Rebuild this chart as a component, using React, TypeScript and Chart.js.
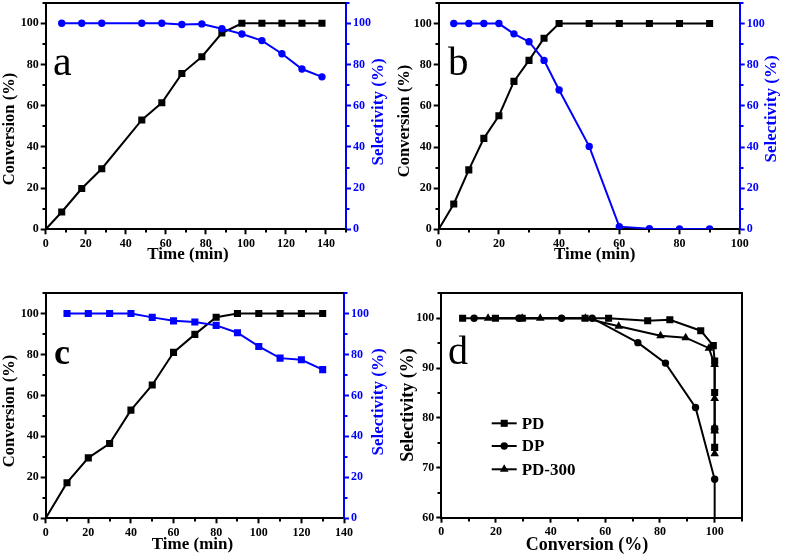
import React, { useEffect, useRef } from "react";
import { Chart, registerables } from "chart.js";

Chart.register(...registerables);

const FONT = "'Liberation Serif', 'Times New Roman', Times, serif";
const BLUE = "#0000ff";
const BLACK = "#000000";

// ---------- Panel a ----------
const timeA = [0, 8, 18, 28, 48, 58, 68, 78, 88, 98, 108, 118, 128, 138];
const convA = [0, 8.4, 19.8, 29.4, 53.1, 61.4, 75.6, 83.8, 95.3, 100, 100, 100, 100, 100];
const selTimeA = [8, 18, 28, 48, 58, 68, 78, 88, 98, 108, 118, 128, 138];
const selA = [100, 100, 100, 100, 100, 99.4, 99.7, 97.4, 94.8, 91.6, 85.2, 77.8, 74.0];

// ---------- Panel b ----------
const timeB = [0, 5, 10, 15, 20, 25, 30, 35, 40, 50, 60, 70, 80, 90];
const convB = [0, 12.3, 28.9, 44.2, 55.2, 71.9, 82.1, 92.9, 100, 100, 100, 100, 100, 100];
const selTimeB = [5, 10, 15, 20, 25, 30, 35, 40, 50, 60, 70, 80, 90];
const selB = [100, 100, 100, 100, 95.0, 91.2, 82.1, 67.7, 40.3, 1.3, 0.3, 0.2, 0.2];

// ---------- Panel c ----------
const timeC = [0, 10, 20, 30, 40, 50, 60, 70, 80, 90, 100, 110, 120, 130];
const convC = [0, 17.4, 29.5, 36.5, 52.8, 65.1, 81.0, 89.8, 98.2, 100, 100, 100, 100, 100];
const selTimeC = [10, 20, 30, 40, 50, 60, 70, 80, 90, 100, 110, 120, 130];
const selC = [100, 100, 100, 100, 98.1, 96.4, 95.8, 94.2, 90.6, 83.9, 78.2, 77.4, 72.6];

// ---------- Panel d ----------
const convPD = [7.8, 19.8, 29.6, 52.6, 61.2, 75.5, 83.6, 94.9, 99.5, 100, 100, 100, 100];
const selPD = [100, 100, 100, 100, 100, 99.5, 99.7, 97.5, 94.5, 91.4, 85.1, 77.8, 74.1];
const convDP = [12.0, 28.4, 44.0, 55.2, 71.9, 82.0, 93.0, 100, 100];
const selDP = [100, 100, 100, 100, 95.1, 91.0, 82.1, 67.7, 40.3];
const convPD300 = [17.1, 29.6, 36.2, 52.7, 64.9, 80.2, 89.4, 97.9, 100, 100, 100, 100, 100];
const selPD300 = [100, 100, 100, 100, 98.4, 96.5, 96.1, 94.0, 90.7, 83.9, 78.2, 77.4, 72.8];

const legendLabels = ["PD", "DP", "PD-300"];

type Range = { min: number; max: number; step: number; minor: number };
type Txt = {
  text: string; x: number; y: number; rot?: number; size: number;
  bold?: boolean; color?: string; align?: CanvasTextAlign; baseline?: CanvasTextBaseline;
};
type Spec = {
  box: [number, number, number, number];
  area: [number, number, number, number];
  x: Range; y: Range; y2?: Range;
  datasets: any[];
  texts: Txt[];
  frameRight?: boolean;
  legend?: { x1: number; x2: number; tx: number; ys: number[] };
};

const pts = (xs: number[], ys: number[]) => xs.map((x, i) => ({ x, y: ys[i] }));

function lineDs(label: string, xs: number[], ys: number[], color: string, style: string, r: number, axis: string, order: number, hideFirst = false) {
  return {
    label,
    data: pts(xs, ys),
    borderColor: color,
    backgroundColor: color,
    borderWidth: 2,
    pointStyle: style,
    pointRadius: xs.map((_, i) => (hideFirst && i === 0 ? 0 : r)),
    pointBorderWidth: 0,
    pointHoverRadius: r,
    tension: 0,
    yAxisID: axis,
    xAxisID: "x",
    order,
  };
}

const RANGE_T150: Range = { min: 0, max: 150, step: 20, minor: 10 };
const RANGE_T100: Range = { min: 0, max: 100, step: 20, minor: 10 };
const RANGE_T140: Range = { min: 0, max: 140, step: 20, minor: 10 };
const RANGE_P110: Range = { min: 0, max: 110, step: 20, minor: 10 };
const RANGE_SEL_D: Range = { min: 60, max: 105, step: 10, minor: 5 };
const RANGE_CONV_D: Range = { min: 0, max: 110, step: 20, minor: 10 };

const specs: Spec[] = [
  {
    box: [0, 0, 393, 275],
    area: [45.7, 2.7, 346, 229.3],
    x: RANGE_T150, y: RANGE_P110, y2: RANGE_P110,
    datasets: [
      lineDs("Conversion", timeA, convA, BLACK, "rect", 5, "y", 1, true),
      lineDs("Selectivity", selTimeA, selA, BLUE, "circle", 3.7, "y2", 0),
    ],
    texts: [
      { text: "a", x: 53, y: 75, size: 42, align: "left", baseline: "alphabetic" },
      { text: "Conversion (%)", x: 10, y: 129, rot: -90, size: 16.5, bold: true },
      { text: "Selectivity (%)", x: 379, y: 112, rot: -90, size: 17, bold: true, color: BLUE },
      { text: "Time (min)", x: 188, y: 255, size: 17, bold: true },
    ],
  },
  {
    box: [393, 0, 394, 275],
    area: [438.7, 3, 739.7, 229.3],
    x: RANGE_T100, y: RANGE_P110, y2: RANGE_P110,
    datasets: [
      lineDs("Conversion", timeB, convB, BLACK, "rect", 5, "y", 1, true),
      lineDs("Selectivity", selTimeB, selB, BLUE, "circle", 3.7, "y2", 0),
    ],
    texts: [
      { text: "b", x: 448, y: 75, size: 41, align: "left", baseline: "alphabetic" },
      { text: "Conversion (%)", x: 404.7, y: 121, rot: -90, size: 16.5, bold: true },
      { text: "Selectivity (%)", x: 772, y: 109, rot: -90, size: 17, bold: true, color: BLUE },
      { text: "Time (min)", x: 594.7, y: 255, size: 17, bold: true },
    ],
  },
  {
    box: [0, 285, 393, 273],
    area: [45.7, 293, 344, 518.3],
    x: RANGE_T140, y: RANGE_P110, y2: RANGE_P110,
    datasets: [
      lineDs("Conversion", timeC, convC, BLACK, "rect", 5, "y", 1, true),
      lineDs("Selectivity", selTimeC, selC, BLUE, "rect", 5, "y2", 0),
    ],
    texts: [
      { text: "c", x: 54, y: 364, size: 36, bold: true, align: "left", baseline: "alphabetic" },
      { text: "Conversion (%)", x: 10, y: 411, rot: -90, size: 16.5, bold: true },
      { text: "Selectivity (%)", x: 379, y: 402, rot: -90, size: 17, bold: true, color: BLUE },
      { text: "Time (min)", x: 192.5, y: 545, size: 17, bold: true },
    ],
  },
  {
    box: [393, 285, 394, 273],
    area: [441.3, 293.3, 742, 517.7],
    x: RANGE_CONV_D, y: RANGE_SEL_D,
    datasets: [
      lineDs(legendLabels[0], convPD, selPD, BLACK, "rect", 5, "y", 2),
      lineDs(legendLabels[1], convDP, selDP, BLACK, "circle", 3.7, "y", 1),
      lineDs(legendLabels[2], convPD300, selPD300, BLACK, "triangle", 5, "y", 0),
    ],
    texts: [
      { text: "d", x: 448, y: 364, size: 40, align: "left", baseline: "alphabetic" },
      { text: "Selectivity (%)", x: 408, y: 405, rot: -90, size: 18, bold: true },
      { text: "Conversion (%)", x: 587, y: 545, size: 18, bold: true },
    ],
    frameRight: true,
    legend: { x1: 491.7, x2: 516.7, tx: 521.7, ys: [423.3, 446, 469.3] },
  },
];

function drawMarker(ctx: CanvasRenderingContext2D, style: string, x: number, y: number, r: number) {
  ctx.beginPath();
  if (style === "rect") {
    const s = Math.SQRT1_2 * r;
    ctx.rect(x - s, y - s, 2 * s, 2 * s);
  } else if (style === "circle") {
    ctx.arc(x, y, r, 0, Math.PI * 2);
  } else {
    let a = 0;
    ctx.moveTo(x + Math.sin(a) * r, y - Math.cos(a) * r);
    a += (2 * Math.PI) / 3;
    ctx.lineTo(x + Math.sin(a) * r, y - Math.cos(a) * r);
    a += (2 * Math.PI) / 3;
    ctx.lineTo(x + Math.sin(a) * r, y - Math.cos(a) * r);
    ctx.closePath();
  }
  ctx.fill();
}

function makeConfig(spec: Spec): any {
  const [x0, y0, w, h] = spec.box;
  const [l, t, r, b] = spec.area;
  const leftW = l - x0;
  const rightW = x0 + w - r;
  const botH = y0 + h - b;
  const topP = t - y0;

  const axis = (rg: Range, color: string, position: string, size: number, horiz: boolean) => ({
    type: "linear",
    position,
    min: rg.min,
    max: rg.max,
    afterFit: (s: any) => {
      if (horiz) s.height = size;
      else s.width = size;
      s.paddingTop = 0;
      s.paddingBottom = 0;
      s.paddingLeft = 0;
      s.paddingRight = 0;
    },
    border: { display: true, color, width: 2 },
    grid: { display: true, drawOnChartArea: false, drawTicks: true, tickLength: 5, tickWidth: 2, tickColor: color, color },
    ticks: {
      stepSize: rg.step,
      includeBounds: false,
      color,
      font: { family: FONT, size: 12, weight: "bold" },
      padding: 2,
      maxRotation: 0,
      minRotation: 0,
      autoSkip: false,
    },
  });

  const scales: any = {
    x: axis(spec.x, BLACK, "bottom", botH, true),
    y: axis(spec.y, BLACK, "left", leftW, false),
  };
  if (spec.y2) scales.y2 = axis(spec.y2, BLUE, "right", rightW, false);

  const decor = {
    id: "decor",
    afterDraw(chart: any) {
      const ctx: CanvasRenderingContext2D = chart.ctx;
      const ca = chart.chartArea;
      ctx.save();
      // frame
      ctx.strokeStyle = BLACK;
      ctx.lineWidth = 2;
      ctx.beginPath();
      const ty = Math.round(ca.top);
      ctx.moveTo(Math.round(ca.left) - 1, ty);
      ctx.lineTo(Math.round(ca.right) + 1, ty);
      if (spec.frameRight) {
        const rx = Math.round(ca.right);
        ctx.moveTo(rx, ty - 1);
        ctx.lineTo(rx, Math.round(ca.bottom) + 1);
      }
      ctx.stroke();

      // minor ticks
      const minor = (id: string, rg: Range, color: string, side: string) => {
        const s = chart.scales[id];
        if (!s) return;
        ctx.strokeStyle = color;
        ctx.lineWidth = 2;
        for (let v = rg.min + rg.minor; v <= rg.max + 1e-9; v += rg.minor) {
          const q = (v - 0) / rg.step;
          if (Math.abs(q - Math.round(q)) < 1e-6) continue;
          const p = Math.round(s.getPixelForValue(v));
          ctx.beginPath();
          if (side === "bottom") {
            const yy = Math.round(ca.bottom);
            ctx.moveTo(p, yy);
            ctx.lineTo(p, yy + 3.5);
          } else if (side === "left") {
            const xx = Math.round(ca.left);
            ctx.moveTo(xx, p);
            ctx.lineTo(xx - 3.5, p);
          } else {
            const xx = Math.round(ca.right);
            ctx.moveTo(xx, p);
            ctx.lineTo(xx + 3.5, p);
          }
          ctx.stroke();
        }
      };
      minor("x", spec.x, BLACK, "bottom");
      minor("y", spec.y, BLACK, "left");
      if (spec.y2) minor("y2", spec.y2, BLUE, "right");

      // texts
      for (const tx of spec.texts) {
        ctx.save();
        ctx.translate(tx.x - x0, tx.y - y0);
        if (tx.rot) ctx.rotate((tx.rot * Math.PI) / 180);
        ctx.fillStyle = tx.color || BLACK;
        ctx.font = `${tx.bold ? "bold " : ""}${tx.size}px ${FONT}`;
        ctx.textAlign = tx.align || "center";
        ctx.textBaseline = tx.baseline || "middle";
        ctx.fillText(tx.text, 0, 0);
        ctx.restore();
      }

      // legend
      if (spec.legend) {
        const lg = spec.legend;
        const dsets = chart.data.datasets;
        // legend entries listed in label order
        legendLabels.forEach((lab, i) => {
          const ds = dsets.find((d: any) => d.label === lab);
          if (!ds) return;
          const yy = lg.ys[i] - y0;
          ctx.strokeStyle = ds.borderColor;
          ctx.lineWidth = 2;
          ctx.beginPath();
          ctx.moveTo(lg.x1 - x0, yy);
          ctx.lineTo(lg.x2 - x0, yy);
          ctx.stroke();
          ctx.fillStyle = ds.backgroundColor;
          const rr = Array.isArray(ds.pointRadius) ? ds.pointRadius[ds.pointRadius.length - 1] : ds.pointRadius;
          drawMarker(ctx, ds.pointStyle, (lg.x1 + lg.x2) / 2 - x0, yy, rr);
          ctx.fillStyle = BLACK;
          ctx.font = `bold 17px ${FONT}`;
          ctx.textAlign = "left";
          ctx.textBaseline = "middle";
          ctx.fillText(lab, lg.tx - x0, yy + 1);
        });
      }
      ctx.restore();
    },
  };

  return {
    type: "line",
    data: { datasets: spec.datasets },
    options: {
      responsive: false,
      maintainAspectRatio: false,
      animation: false,
      devicePixelRatio: 1,
      layout: {
        autoPadding: false,
        padding: { top: topP, left: 0, bottom: 0, right: spec.y2 ? 0 : rightW },
      },
      plugins: { legend: { display: false }, tooltip: { enabled: false }, title: { display: false } },
      scales,
    },
    plugins: [decor],
  };
}

function Panel({ spec }: { spec: Spec }) {
  const ref = useRef<HTMLCanvasElement>(null);
  useEffect(() => {
    if (!ref.current) return;
    const chart = new Chart(ref.current, makeConfig(spec));
    return () => chart.destroy();
  }, [spec]);
  const [x0, y0, w, h] = spec.box;
  return (
    <canvas
      ref={ref}
      width={w}
      height={h}
      style={{ position: "absolute", left: x0, top: y0, width: w, height: h }}
    />
  );
}

export default function App() {
  return (
    <div style={{ position: "absolute", left: 0, top: 0, width: 787, height: 558, background: "#ffffff", overflow: "hidden" }}>
      {specs.map((s, i) => (
        <Panel key={i} spec={s} />
      ))}
    </div>
  );
}
